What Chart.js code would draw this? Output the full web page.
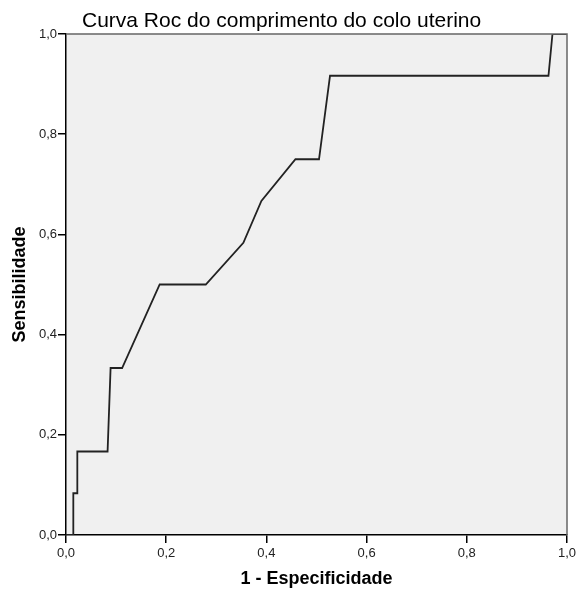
<!DOCTYPE html>
<html>
<head>
<meta charset="utf-8">
<script src="https://cdn.jsdelivr.net/npm/chart.js@4/dist/chart.umd.min.js"></script>
<style>
  html, body { margin: 0; padding: 0; background: #fff; }
  #wrap { width: 576px; height: 590px; }
</style>
</head>
<body>
<div id="wrap"><canvas id="rocChart" width="576" height="590"></canvas></div>
<script>
// Pontos da curva ROC
const umMenosEspecificidade = [0, 0.0146, 0.0146, 0.0226, 0.0226, 0.083, 0.089, 0.112, 0.187, 0.279, 0.354, 0.390, 0.458, 0.505, 0.527, 0.963, 0.971, 1.0];
const sensibilidade = [0, 0, 0.0833, 0.0833, 0.1667, 0.1667, 0.3333, 0.3333, 0.5, 0.5, 0.5833, 0.6667, 0.75, 0.75, 0.9167, 0.9167, 1.0, 1.0];
const tickValores = [0, 0.2, 0.4, 0.6, 0.8, 1.0];

const pontos = umMenosEspecificidade.map((x, i) => ({ x: x, y: sensibilidade[i] }));
const fmt = v => v.toFixed(1).replace('.', ',');
const fonte = '"Liberation Sans", Arial, sans-serif';

// fundo cinza, moldura e título
const fundoPlugin = {
  id: 'fundo',
  beforeDraw(chart) {
    const a = chart.chartArea, c = chart.ctx;
    c.save();
    c.fillStyle = '#f0f0f0';
    c.fillRect(a.left, a.top, a.right - a.left, a.bottom - a.top);
    c.restore();
  },
  afterDraw(chart) {
    const a = chart.chartArea, c = chart.ctx;
    c.save();
    c.strokeStyle = '#666';
    c.lineWidth = 1.5;
    c.beginPath();
    c.moveTo(a.left, a.top);
    c.lineTo(a.right, a.top);
    c.lineTo(a.right, a.bottom);
    c.stroke();
    c.fillStyle = '#000';
    c.font = '21px ' + fonte;
    c.textBaseline = 'alphabetic';
    c.fillText('Curva Roc do comprimento do colo uterino', 82, 27);
    c.restore();
  }
};

const ctx = document.getElementById('rocChart').getContext('2d');
const rocChart = new Chart(ctx, {
  type: 'scatter',
  data: {
    datasets: [{
      data: pontos,
      showLine: true,
      borderColor: '#222',
      borderWidth: 1.8,
      pointRadius: 0,
      tension: 0
    }]
  },
  options: {
    responsive: false,
    animation: false,
    layout: { padding: { top: 34, right: 0, left: 0, bottom: 0 } },
    plugins: { legend: { display: false }, tooltip: { enabled: false } },
    scales: {
      x: {
        type: 'linear', min: 0, max: 1,
        afterBuildTicks: s => { s.ticks = tickValores.map(v => ({ value: v })); },
        afterFit: s => { s.height = 55; s.paddingRight = 9; s.paddingLeft = 0; },
        grid: { drawOnChartArea: false, drawTicks: true, tickLength: 8, color: '#000', lineWidth: 1.5 },
        border: { display: true, color: '#000', width: 1.5 },
        ticks: { callback: v => fmt(v), color: '#222', padding: 3, maxRotation: 0,
                 font: { family: fonte, size: 13 } },
        title: { display: true, text: '1 - Especificidade', color: '#000', padding: { top: 4, bottom: 0 },
                 font: { family: fonte, size: 18, weight: 'bold' } }
      },
      y: {
        type: 'linear', min: 0, max: 1,
        afterBuildTicks: s => { s.ticks = tickValores.map(v => ({ value: v })); },
        afterFit: s => { s.width = 66; s.paddingTop = 0; s.paddingBottom = 0; },
        grid: { drawOnChartArea: false, drawTicks: true, tickLength: 8, color: '#000', lineWidth: 1.5 },
        border: { display: true, color: '#000', width: 1.5 },
        ticks: { callback: v => fmt(v), color: '#222', padding: 1,
                 font: { family: fonte, size: 13 } },
        title: { display: true, text: 'Sensibilidade', color: '#000', padding: { top: 9, bottom: 2 },
                 font: { family: fonte, size: 18, weight: 'bold' } }
      }
    }
  },
  plugins: [fundoPlugin]
});
</script>
</body>
</html>
